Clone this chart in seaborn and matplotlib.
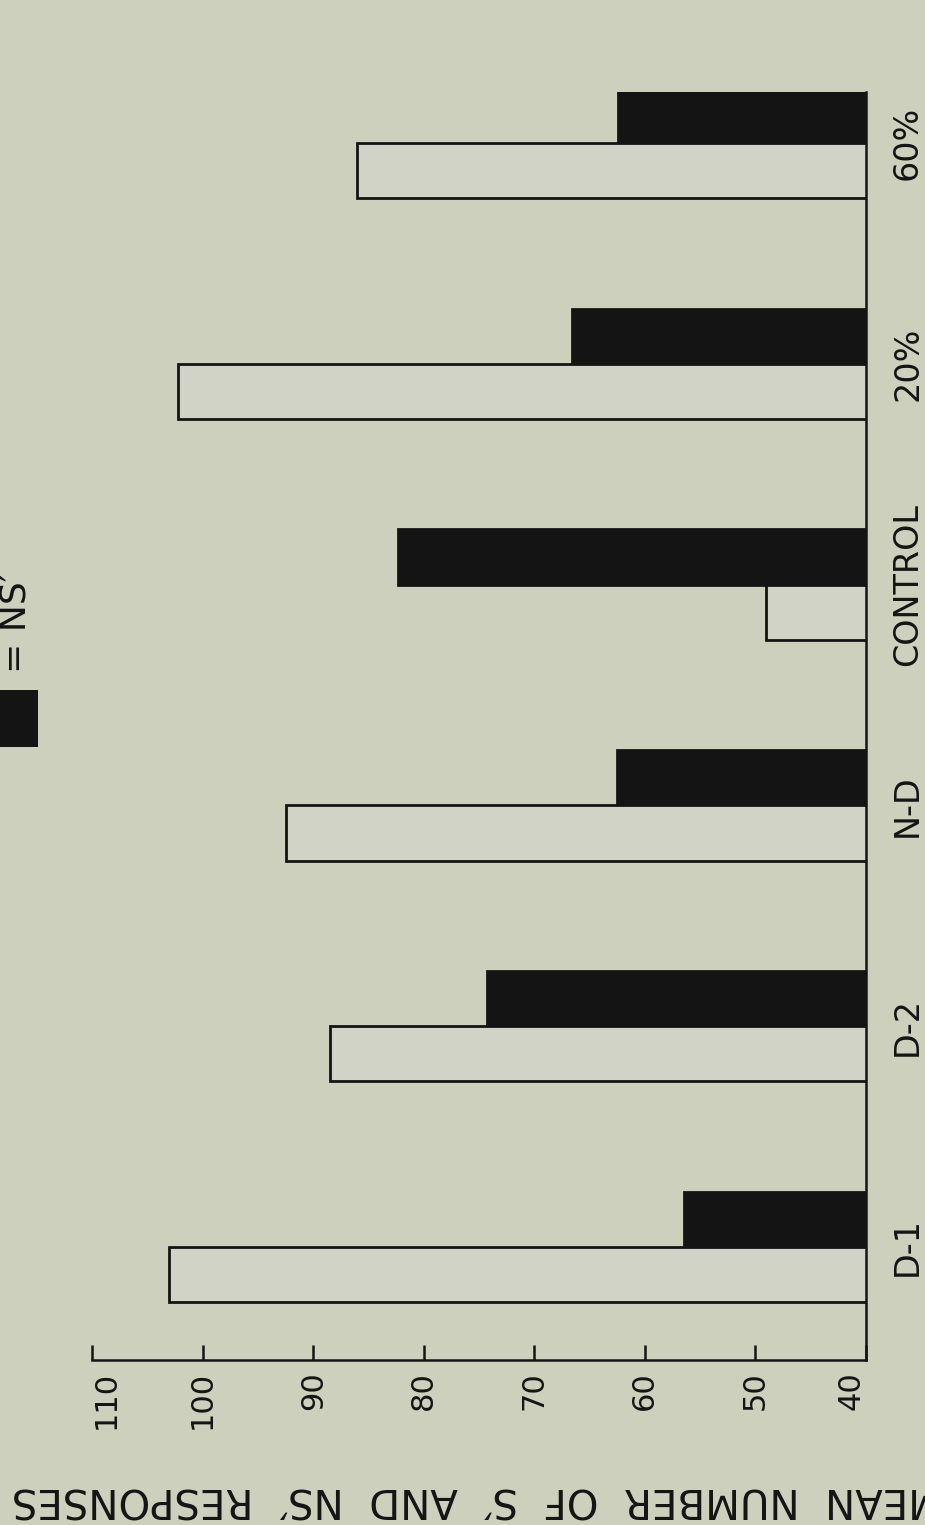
import matplotlib
matplotlib.use('Agg')
import pandas as pd
import matplotlib.pyplot as plt
import seaborn as sns
from matplotlib.patches import Rectangle

# дані (середня кількість відповідей)
groups = ['D-1', 'D-2', 'N-D', 'CONTROL', '20%', '60%']
s_prime = [103, 88.5, 92.5, 49, 102.2, 86]
ns_prime = [56.5, 74.3, 62.5, 82.3, 66.6, 62.4]
value_ticks = [40, 50, 60, 70, 80, 90, 100, 110]
series = ['S′', 'NS′']

paper = '#cdd0bd'
bar_fill = '#d3d5c5'
ink = '#141414'

df = pd.DataFrame({
    'group': groups * 2,
    'response': [series[0]] * len(groups) + [series[1]] * len(groups),
    'mean': s_prime + ns_prime,
})

sns.set_style('ticks')
plt.rcParams['font.family'] = ['DejaVu Sans']

W, H = 925, 1525
fig = plt.figure(figsize=(W / 100, H / 100), dpi=100, facecolor=paper)
ax = fig.add_axes([92 / W, 1 - 1360 / H, (866 - 92) / W, (1360 - 92) / H])
ax.set_facecolor(paper)

sns.barplot(data=df, x='mean', y='group', hue='response',
            order=groups[::-1], hue_order=['NS′', 'S′'],
            palette={'NS′': ink, 'S′': bar_fill},
            orient='h', width=0.5, gap=0, errorbar=None,
            edgecolor=ink, linewidth=2, legend=False, ax=ax)

ax.set_xlim(110, 40)
ax.set_ylim(5.512, -0.231)

for side in ['top', 'left']:
    ax.spines[side].set_visible(False)
for side in ['right', 'bottom']:
    ax.spines[side].set_linewidth(1.8)
    ax.spines[side].set_color(ink)

ax.set_xticks(value_ticks)
ax.set_xticklabels([str(v) for v in value_ticks])
ax.tick_params(axis='x', direction='in', length=11, width=1.8, color=ink,
               labelsize=22, labelrotation=90, pad=8, labelcolor=ink)
labels = ax.get_xticklabels()
labels[0].set_ha('right')
labels[-1].set_ha('left')

ax.yaxis.tick_right()
ax.tick_params(axis='y', length=0, labelsize=24, pad=18, labelcolor=ink)
for lab in ax.get_yticklabels():
    lab.set_rotation(90)
    lab.set_va('center')
    lab.set_ha('left')

ax.set_xlabel('')
ax.set_ylabel('')

# підпис осі (перевернутий, як на скані)
fig.text(12 / W, 1 - 1487 / H, 'MEAN  NUMBER  OF  S′  AND  NS′  RESPONSES',
         rotation=180, rotation_mode='anchor', ha='right', va='baseline',
         fontsize=29, color=ink)

# залишок легенди біля верхнього краю
fig.add_artist(Rectangle((-10 / W, 1 - 747 / H), 48 / W, 57 / H,
                         transform=fig.transFigure, facecolor=ink, edgecolor='none'))
fig.text(16 / W, 1 - 623 / H, '= NS′', rotation=90, ha='center', va='center',
         fontsize=26, color=ink)

fig.savefig('out.png', dpi=100, facecolor=fig.get_facecolor())
